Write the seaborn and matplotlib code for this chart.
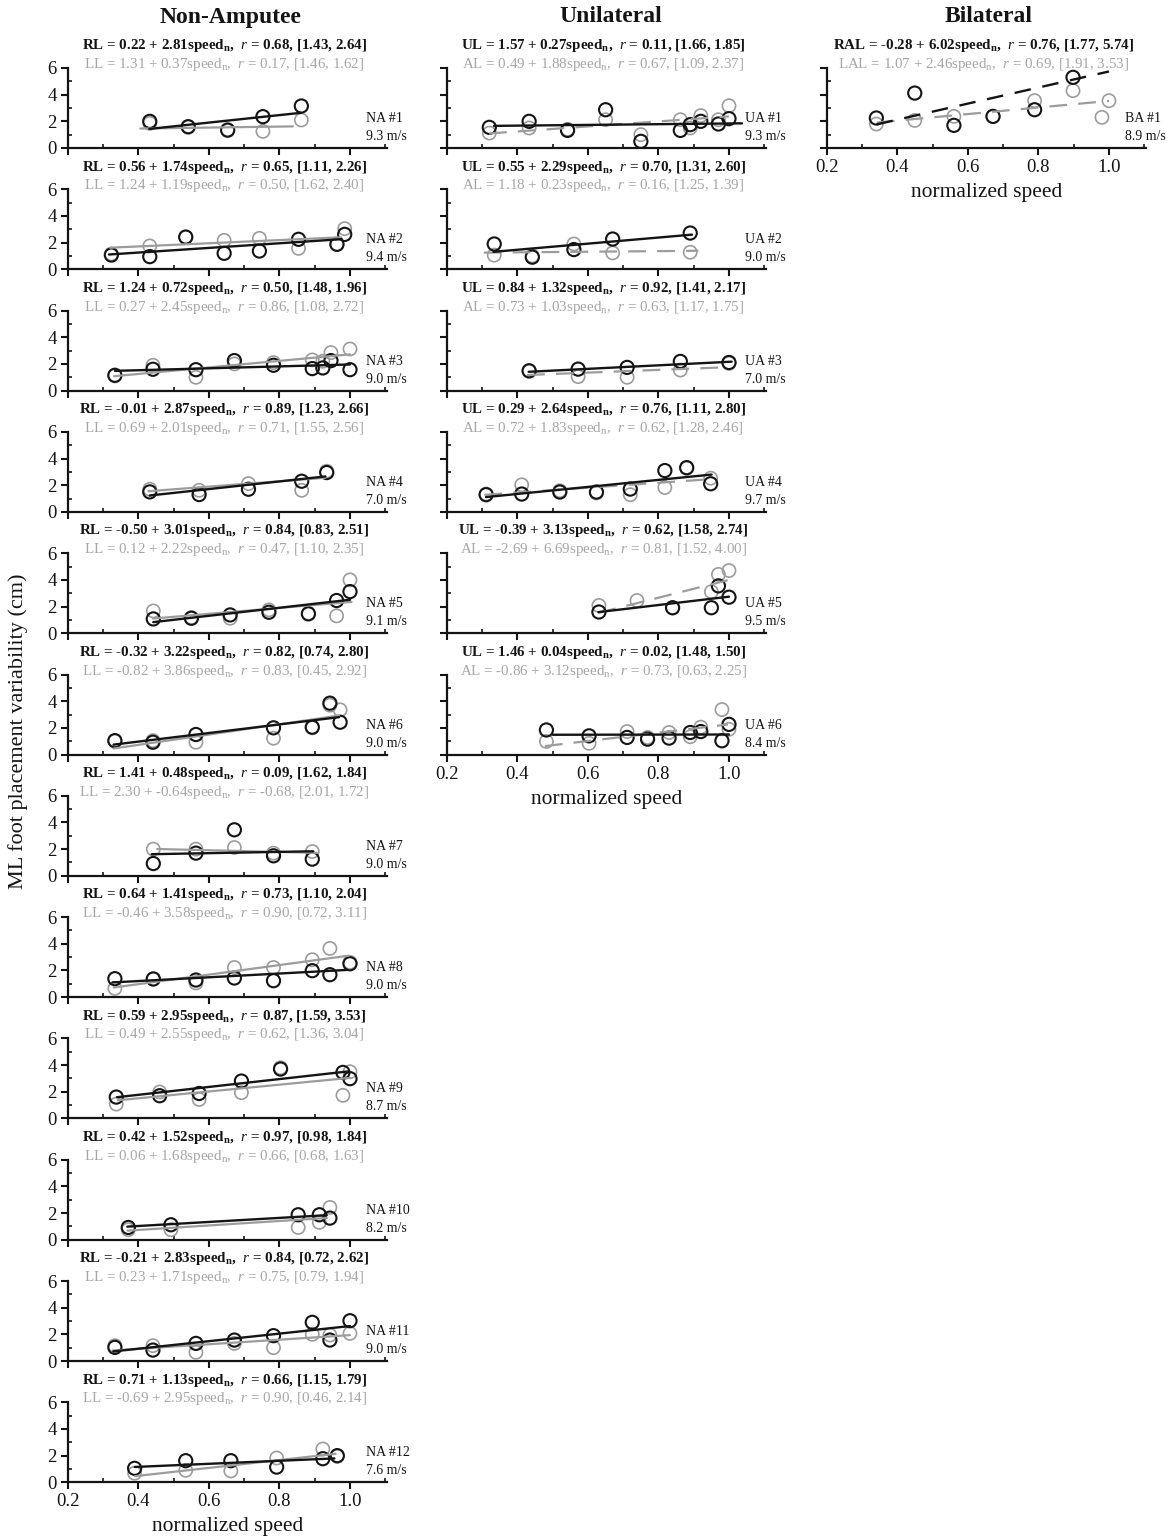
import numpy as np
import matplotlib
matplotlib.use("Agg")
import matplotlib.pyplot as plt
import seaborn as sns

# ---------------- data ----------------
COLUMN_TITLES = ["Non-Amputee", "Unilateral", "Bilateral"]
X_LABEL = "normalized speed"
Y_LABEL = "ML foot placement variability (cm)"
X_TICKS = [0.2, 0.4, 0.6, 0.8, 1.0]
Y_TICKS = [0, 2, 4, 6]

# Non-amputee (NA #1 .. #12): right leg (black) / left leg (grey)
NA_SPEEDS = [9.3, 9.4, 9.0, 7.0, 9.1, 9.0, 9.0, 9.0, 8.7, 8.2, 9.0, 7.6]
NA_X = [
    [0.432, 0.541, 0.653, 0.753, 0.862],
    [0.323, 0.432, 0.534, 0.643, 0.743, 0.854, 0.963, 0.985],
    [0.333, 0.441, 0.563, 0.672, 0.783, 0.893, 0.923, 0.946, 1.0],
    [0.432, 0.572, 0.712, 0.863, 0.934],
    [0.442, 0.55, 0.66, 0.77, 0.882, 0.962, 1.0],
    [0.333, 0.441, 0.563, 0.783, 0.893, 0.943, 0.972],
    [0.442, 0.563, 0.672, 0.783, 0.893],
    [0.333, 0.442, 0.563, 0.672, 0.783, 0.893, 0.943, 1.0],
    [0.337, 0.46, 0.572, 0.692, 0.803, 0.98, 1.0],
    [0.371, 0.492, 0.853, 0.913, 0.943],
    [0.333, 0.441, 0.563, 0.672, 0.783, 0.893, 0.943, 1.0],
    [0.389, 0.534, 0.662, 0.792, 0.923, 0.964],
]
NA_R_Y = [
    [2.0, 1.6, 1.35, 2.35, 3.15],
    [1.07, 0.95, 2.42, 1.2, 1.37, 2.25, 1.87, 2.62],
    [1.15, 1.6, 1.57, 2.25, 1.9, 1.65, 1.7, 2.25, 1.57],
    [1.5, 1.3, 1.7, 2.3, 2.95],
    [1.07, 1.12, 1.37, 1.57, 1.45, 2.45, 3.12],
    [1.04, 0.92, 1.5, 2.0, 2.05, 3.85, 2.42],
    [0.92, 1.7, 3.45, 1.5, 1.25],
    [1.38, 1.36, 1.28, 1.43, 1.23, 1.98, 1.68, 2.5],
    [1.6, 1.7, 1.87, 2.8, 3.7, 3.45, 2.98],
    [0.92, 1.12, 1.87, 1.87, 1.62],
    [1.02, 0.82, 1.32, 1.57, 1.9, 2.9, 1.57, 3.02],
    [1.05, 1.62, 1.62, 1.14, 1.77, 2.0],
]
NA_L_Y = [
    [1.85, 1.55, 1.3, 1.25, 2.1],
    [1.15, 1.75, 2.4, 2.17, 2.32, 1.57, 1.9, 3.05],
    [1.1, 1.9, 1.0, 2.0, 2.1, 2.3, 2.2, 2.85, 3.12],
    [1.7, 1.62, 2.12, 1.62, 3.05],
    [1.67, 1.17, 1.12, 1.75, 1.5, 1.3, 4.0],
    [1.0, 1.04, 0.92, 1.22, 2.0, 3.7, 3.35],
    [2.0, 2.0, 2.12, 1.7, 1.82],
    [0.65, 1.35, 1.06, 2.22, 2.22, 2.8, 3.65, 2.6],
    [1.07, 1.98, 1.42, 1.93, 3.8, 1.73, 3.5],
    [0.75, 0.75, 0.92, 1.3, 2.42],
    [1.15, 1.15, 0.65, 1.32, 1.0, 2.0, 1.95, 2.07],
    [0.68, 0.9, 0.85, 1.82, 2.5, 1.94],
]
# fits: intercept, slope, r, fitted value at min speed, fitted value at max speed
NA_R_FIT = [
    (0.22, 2.81, 0.68, 1.43, 2.64), (0.56, 1.74, 0.65, 1.11, 2.26),
    (1.24, 0.72, 0.50, 1.48, 1.96), (-0.01, 2.87, 0.89, 1.23, 2.66),
    (-0.50, 3.01, 0.84, 0.83, 2.51), (-0.32, 3.22, 0.82, 0.74, 2.80),
    (1.41, 0.48, 0.09, 1.62, 1.84), (0.64, 1.41, 0.73, 1.10, 2.04),
    (0.59, 2.95, 0.87, 1.59, 3.53), (0.42, 1.52, 0.97, 0.98, 1.84),
    (-0.21, 2.83, 0.84, 0.72, 2.62), (0.71, 1.13, 0.66, 1.15, 1.79),
]
NA_L_FIT = [
    (1.31, 0.37, 0.17, 1.46, 1.62), (1.24, 1.19, 0.50, 1.62, 2.40),
    (0.27, 2.45, 0.86, 1.08, 2.72), (0.69, 2.01, 0.71, 1.55, 2.56),
    (0.12, 2.22, 0.47, 1.10, 2.35), (-0.82, 3.86, 0.83, 0.45, 2.92),
    (2.30, -0.64, -0.68, 2.01, 1.72), (-0.46, 3.58, 0.90, 0.72, 3.11),
    (0.49, 2.55, 0.62, 1.36, 3.04), (0.06, 1.68, 0.66, 0.68, 1.63),
    (0.23, 1.71, 0.75, 0.79, 1.94), (-0.69, 2.95, 0.90, 0.46, 2.14),
]

# Unilateral amputees (UA #1 .. #6): unaffected leg (black) / affected leg (grey)
UA_SPEEDS = [9.3, 9.0, 7.0, 9.7, 9.5, 8.4]
UA_U_X = [
    [0.32, 0.433, 0.542, 0.65, 0.75, 0.862, 0.89, 0.92, 0.97, 1.0],
    [0.334, 0.442, 0.56, 0.67, 0.89],
    [0.433, 0.572, 0.711, 0.862, 1.0],
    [0.311, 0.412, 0.52, 0.624, 0.72, 0.818, 0.88, 0.948],
    [0.631, 0.84, 0.95, 0.97, 1.0],
    [0.482, 0.603, 0.711, 0.769, 0.83, 0.89, 0.92, 0.98, 1.0],
]
UA_U_Y = [
    [1.55, 2.0, 1.32, 2.87, 0.5, 1.32, 1.75, 2.0, 1.8, 2.2],
    [1.9, 0.91, 1.48, 2.27, 2.72],
    [1.49, 1.61, 1.74, 2.19, 2.11],
    [1.29, 1.34, 1.49, 1.49, 1.71, 3.1, 3.32, 2.11],
    [1.59, 1.91, 1.91, 3.55, 2.7],
    [1.84, 1.4, 1.28, 1.15, 1.23, 1.65, 1.72, 1.03, 2.26],
]
UA_A_X = [
    [0.32, 0.433, 0.542, 0.65, 0.75, 0.862, 0.89, 0.92, 0.97, 1.0],
    [0.334, 0.442, 0.56, 0.67, 0.89],
    [0.433, 0.572, 0.711, 0.862, 1.0],
    [0.311, 0.412, 0.52, 0.624, 0.72, 0.818, 0.88, 0.948],
    [0.631, 0.739, 0.84, 0.95, 0.97, 1.0],
    [0.482, 0.603, 0.711, 0.769, 0.83, 0.89, 0.92, 0.98, 1.0],
]
UA_A_Y = [
    [1.12, 1.5, 1.4, 2.12, 1.0, 2.12, 1.5, 2.43, 2.12, 3.17],
    [1.06, 1.0, 1.9, 1.23, 1.28],
    [1.44, 1.05, 1.0, 1.54, 2.04],
    [1.34, 2.03, 1.59, 1.42, 1.29, 1.83, 3.27, 2.53],
    [2.08, 2.45, 1.9, 3.11, 4.41, 4.7],
    [0.98, 0.84, 1.72, 1.28, 1.65, 1.33, 2.05, 3.37, 1.89],
]
UA_U_FIT = [
    (1.57, 0.27, 0.11, 1.66, 1.85), (0.55, 2.29, 0.70, 1.31, 2.60),
    (0.84, 1.32, 0.92, 1.41, 2.17), (0.29, 2.64, 0.76, 1.11, 2.80),
    (-0.39, 3.13, 0.62, 1.58, 2.74), (1.46, 0.04, 0.02, 1.48, 1.50),
]
UA_A_FIT = [
    (0.49, 1.88, 0.67, 1.09, 2.37), (1.18, 0.23, 0.16, 1.25, 1.39),
    (0.73, 1.03, 0.63, 1.17, 1.75), (0.72, 1.83, 0.62, 1.28, 2.46),
    (-2.69, 6.69, 0.81, 1.52, 4.00), (-0.86, 3.12, 0.73, 0.63, 2.25),
]

# Bilateral amputee (BA #1): right affected leg (black) / left affected leg (grey)
BA_SPEEDS = [8.9]
BA_R_X = [[0.34, 0.449, 0.56, 0.671, 0.789, 0.898]]
BA_R_Y = [[2.25, 4.12, 1.7, 2.37, 2.87, 5.3]]
BA_L_X = [[0.34, 0.449, 0.56, 0.671, 0.789, 0.898, 0.98, 1.0]]
BA_L_Y = [[1.8, 2.07, 2.37, 2.37, 3.55, 4.3, 2.3, 3.55]]
BA_R_FIT = [(-0.28, 6.02, 0.76, 1.77, 5.74)]
BA_L_FIT = [(1.07, 2.46, 0.69, 1.91, 3.53)]

# ---------------- style ----------------
sns.set_theme(style="ticks")
plt.rcParams["font.family"] = ["Liberation Serif", "DejaVu Serif"]
plt.rcParams["mathtext.fontset"] = "custom"
plt.rcParams["mathtext.rm"] = "Liberation Serif"
plt.rcParams["mathtext.it"] = "Liberation Serif:italic"
plt.rcParams["mathtext.bf"] = "Liberation Serif:bold"

BLACK = "#141414"
GREY = "#9c9c9c"
GREY_TXT = "#a6a6a6"

W, H = 1170, 1538
fig = plt.figure(figsize=(W / 100, H / 100), dpi=100)

COL_LEFT = [68, 447, 827]
AX_W, AX_H = 319, 80
TOP0, STEP = 68, 121.3


def fit_text(name, fit):
    a, b, r, lo, hi = fit
    return (f"{name} = {a:.2f} + {b:.2f}speed$_{{\\mathregular{{n}}}}$,  "
            f"$\\it{{r}}$ = {r:.2f}, [{lo:.2f}, {hi:.2f}]")


def fit_line(fit):
    a, b, r, lo, hi = fit
    xs = [(lo - a) / b, (hi - a) / b]
    ys = [lo, hi]
    return xs, ys


def panel(col, row, xb, yb, xg, yg, fb, fg, names, styles, label, last):
    top = TOP0 + STEP * row
    ax = fig.add_axes([COL_LEFT[col] / W, 1 - (top + AX_H) / H, AX_W / W, AX_H / H])
    ax.patch.set_alpha(0)
    sns.scatterplot(x=xg, y=yg, ax=ax, s=90, color=GREY, facecolors="none",
                    edgecolor=GREY, linewidth=1.2, zorder=3, clip_on=False)
    sns.scatterplot(x=xb, y=yb, ax=ax, s=90, color=BLACK, facecolors="none",
                    edgecolor=BLACK, linewidth=1.5, zorder=4, clip_on=False)
    lx, ly = fit_line(fg)
    sns.lineplot(x=lx, y=ly, ax=ax, color=GREY, linewidth=1.6,
                 linestyle=styles[1], zorder=5)
    lx, ly = fit_line(fb)
    sns.lineplot(x=lx, y=ly, ax=ax, color=BLACK, linewidth=1.7,
                 linestyle=styles[0], zorder=6)

    ax.set_xlim(0.2, 1.105)
    ax.set_ylim(0, 6)
    for s in ["top", "right"]:
        ax.spines[s].set_visible(False)
    for s in ["left", "bottom"]:
        ax.spines[s].set_linewidth(1.6)
        ax.spines[s].set_color(BLACK)
    ax.set_xticks(X_TICKS)
    ax.set_xticks(np.arange(0.3, 1.11, 0.2), minor=True)
    ax.set_yticks(Y_TICKS)
    ax.set_yticks([1, 3, 5], minor=True)
    ax.tick_params(which="major", direction="out", length=5, width=1.5,
                   colors=BLACK, labelsize=13.5, pad=3)
    ax.tick_params(which="minor", direction="in", length=3, width=1.2, colors=BLACK)
    ax.set_xticklabels([f"{t:.1f}" for t in X_TICKS])
    if not last:
        ax.tick_params(axis="x", labelbottom=False)
    if col != 0:
        ax.tick_params(axis="y", labelleft=False)
    ax.set_xlabel("")
    ax.set_ylabel("")
    if last:
        ax.set_xlabel(X_LABEL, fontsize=15.5, labelpad=5, color=BLACK)

    ax.annotate(fit_text(names[0], fb), xy=(0.49, 1), xycoords="axes fraction",
                xytext=(0, 13.5), textcoords="offset points", ha="center",
                va="baseline", fontsize=10.8, color=BLACK, weight="bold")
    ax.annotate(fit_text(names[1], fg), xy=(0.49, 1), xycoords="axes fraction",
                xytext=(0, 0), textcoords="offset points", ha="center",
                va="baseline", fontsize=10.8, color=GREY_TXT)
    ax.text(0.935, 0.255, label, transform=ax.transAxes, ha="left", va="center",
            fontsize=10, linespacing=1.5, color=BLACK)
    return ax


for i in range(12):
    panel(0, i, NA_X[i], NA_R_Y[i], NA_X[i], NA_L_Y[i], NA_R_FIT[i], NA_L_FIT[i],
          ("RL", "LL"), ("-", "-"), f"NA #{i + 1}\n{NA_SPEEDS[i]:.1f} m/s", i == 11)

for i in range(6):
    panel(1, i, UA_U_X[i], UA_U_Y[i], UA_A_X[i], UA_A_Y[i], UA_U_FIT[i], UA_A_FIT[i],
          ("UL", "AL"), ("-", (0, (8, 5))), f"UA #{i + 1}\n{UA_SPEEDS[i]:.1f} m/s", i == 5)

panel(2, 0, BA_R_X[0], BA_R_Y[0], BA_L_X[0], BA_L_Y[0], BA_R_FIT[0], BA_L_FIT[0],
      ("RAL", "LAL"), ((0, (7, 5)), (0, (8, 5))), f"BA #1\n{BA_SPEEDS[0]:.1f} m/s", True)

TITLE_X = [231, 611, 989]
for t, x in zip(COLUMN_TITLES, TITLE_X):
    fig.text(x / W, 1 - 17 / H, t, ha="center", va="center", fontsize=17,
             weight="bold", color=BLACK)

fig.text(18 / W, 1 - 731 / H, Y_LABEL, rotation=90, ha="center", va="center",
         fontsize=16, color=BLACK)

fig.savefig("out.png", dpi=100)
